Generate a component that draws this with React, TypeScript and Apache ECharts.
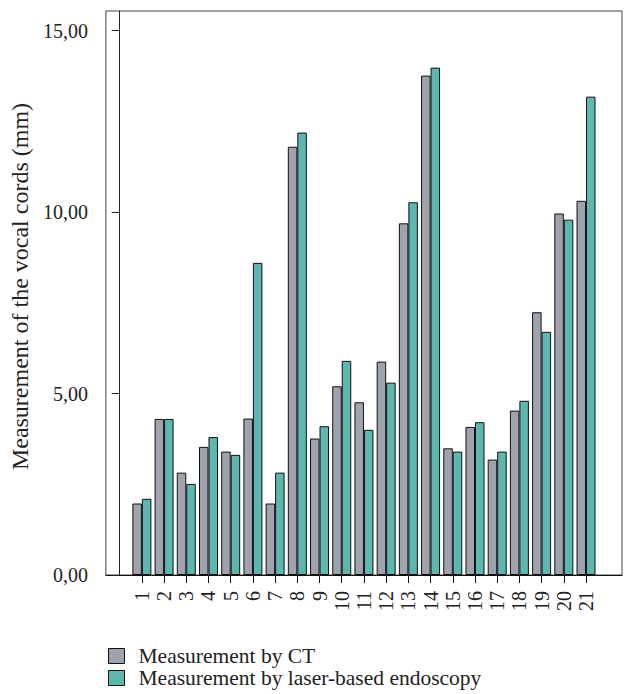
import React, { useEffect, useRef } from "react";
import * as echarts from "echarts";

const categories = ["1","2","3","4","5","6","7","8","9","10","11","12","13","14","15","16","17","18","19","20","21"];
const ctValues = [1.97, 4.30, 2.82, 3.53, 3.40, 4.31, 1.97, 11.80, 3.76, 5.20, 4.76, 5.88, 9.69, 13.76, 3.49, 4.08, 3.18, 4.53, 7.24, 9.96, 10.31];
const laserValues = [2.10, 4.30, 2.51, 3.80, 3.31, 8.60, 2.82, 12.19, 4.10, 5.90, 4.00, 5.30, 10.27, 13.98, 3.40, 4.21, 3.40, 4.80, 6.70, 9.79, 13.18];
const yTicks = [0, 5, 10, 15];
const seriesNames = ["Measurement by CT", "Measurement by laser-based endoscopy"];

const FONT = "'Liberation Serif', 'DejaVu Serif', serif";

export default function App() {
  const ref = useRef<HTMLDivElement>(null);
  useEffect(() => {
    if (!ref.current) return;
    const chart = echarts.init(ref.current, null, { renderer: "svg" });
    const xs = categories.map((c) => Number(c));
    const legendBase = {
      orient: "vertical",
      left: 103,
      itemWidth: 16,
      itemHeight: 15,
      icon: "rect",
      itemStyle: { borderColor: "#111", borderWidth: 1 },
      textStyle: { fontFamily: FONT, fontSize: 21.5, color: "#222", padding: [0, 0, 0, 9] },
    };
    chart.setOption({
      animation: false,
      textStyle: { fontFamily: FONT },
      grid: {
        left: 102,
        top: 11,
        right: 6,
        bottom: 119,
        show: true,
        borderColor: "#444",
        borderWidth: 1,
        backgroundColor: "transparent",
      },
      legend: [
        { ...legendBase, top: 640, data: [seriesNames[0]] },
        { ...legendBase, top: 662, data: [seriesNames[1]] },
      ],
      xAxis: {
        type: "value",
        min: -0.62,
        max: 22.62,
        splitLine: { show: false },
        axisLine: { show: true, lineStyle: { color: "#111", width: 1 } },
        axisTick: { show: true, length: 8, lineStyle: { color: "#111" }, customValues: xs },
        axisLabel: {
          customValues: xs,
          rotate: 90,
          margin: 16,
          fontFamily: FONT,
          fontSize: 20,
          color: "#222",
          formatter: (v: number) => String(v),
        },
      },
      yAxis: {
        type: "value",
        min: 0,
        max: 15.54,
        name: "Measurement of the vocal cords (mm)",
        nameLocation: "middle",
        nameGap: 70,
        nameTextStyle: { fontFamily: FONT, fontSize: 24, color: "#222", padding: [0, 0, 0, 13] },
        splitLine: { show: false },
        axisLine: { show: true, lineStyle: { color: "#222", width: 1 } },
        axisTick: { show: true, length: 8, lineStyle: { color: "#222" }, customValues: yTicks },
        axisLabel: {
          customValues: yTicks,
          margin: 18,
          fontFamily: FONT,
          fontSize: 20,
          color: "#222",
          formatter: (v: number) => v.toFixed(2).replace(".", ","),
        },
      },
      series: [
        {
          name: seriesNames[0],
          type: "bar",
          barWidth: 9.5,
          barGap: "0%",
          data: xs.map((x, i) => [x, ctValues[i]]),
          itemStyle: { color: "#9ea3ad", borderColor: "#111", borderWidth: 1 },
        },
        {
          name: seriesNames[1],
          type: "bar",
          barWidth: 9.5,
          barGap: "0%",
          data: xs.map((x, i) => [x, laserValues[i]]),
          itemStyle: { color: "#5cb8ae", borderColor: "#111", borderWidth: 1 },
        },
      ],
    });
    return () => chart.dispose();
  }, []);
  return (
    <div
      ref={ref}
      style={{ position: "fixed", left: 0, top: 0, width: 628, height: 694, background: "#fff" }}
    />
  );
}
